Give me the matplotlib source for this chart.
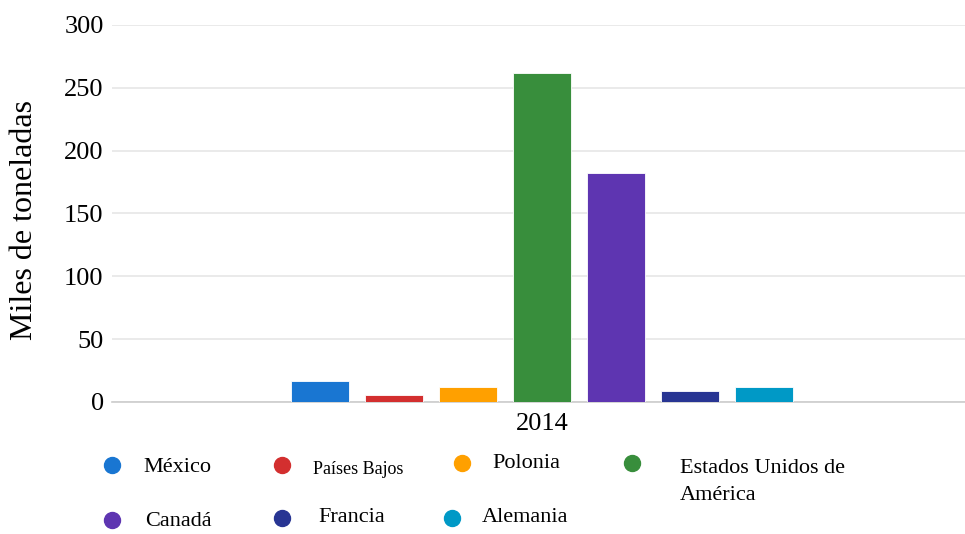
import matplotlib.pyplot as plt
from matplotlib.lines import Line2D

plt.rcParams['font.family'] = ['Liberation Serif', 'DejaVu Serif']

# datos
paises = ['México', 'Países Bajos', 'Polonia', 'Estados Unidos de\nAmérica',
          'Canadá', 'Francia', 'Alemania']
valores = [17, 5.5, 12, 262, 182, 8.5, 12]
colores = ['#1976d2', '#d32f2f', '#ffa000', '#388e3c', '#5e35b1', '#283593', '#0099c6']
anio = '2014'
yticks = [0, 50, 100, 150, 200, 250, 300]

fig = plt.figure(figsize=(9.65, 5.34), dpi=100)
ax = fig.add_axes([112 / 965, 1 - 402 / 534, 853 / 965, 377 / 534])

n = len(valores)
for i, (v, c) in enumerate(zip(valores, colores)):
    ax.bar(i - (n - 1) / 2, v, width=0.78, color=c, edgecolor='white',
           linewidth=0.6, zorder=3)

ax.set_xlim(-5.81, 5.72)
ax.set_ylim(0, 300)
ax.set_yticks(yticks)
ax.set_yticklabels([str(t) for t in yticks], fontsize=19)
ax.set_xticks([0])
ax.set_xticklabels([anio], fontsize=19)
ax.tick_params(length=0, pad=6)
ax.tick_params(axis='x', pad=8)
ax.grid(axis='y', color='#e6e6e6', linewidth=1.2, zorder=0)
for s in ['top', 'right', 'left']:
    ax.spines[s].set_visible(False)
ax.spines['bottom'].set_color('#cccccc')
ax.spines['bottom'].set_linewidth(1.2)
fig.text(25 / 965, 1 - 220 / 534, 'Miles de toneladas', fontsize=23,
         rotation=90, ha='center', va='center')

# leyenda manual
marcas = [(112, 465), (282, 465), (462, 463), (632, 463),
          (112, 520), (282, 518), (452, 518)]
textos = [(143, 467, 16), (313, 469, 13), (492, 464, 16), (680, 482, 16),
          (145, 522, 16), (318, 518, 16), (482, 517, 16)]
for (mx, my), (tx, ty, fs), p, c in zip(marcas, textos, paises, colores):
    fig.add_artist(Line2D([mx / 965], [1 - my / 534], marker='o', markersize=11.5,
                          color=c, linestyle='none', transform=fig.transFigure))
    fig.text(tx / 965, 1 - ty / 534, p, fontsize=fs, va='center', ha='left',
             linespacing=1.6)

fig.savefig('out.png', dpi=100)
